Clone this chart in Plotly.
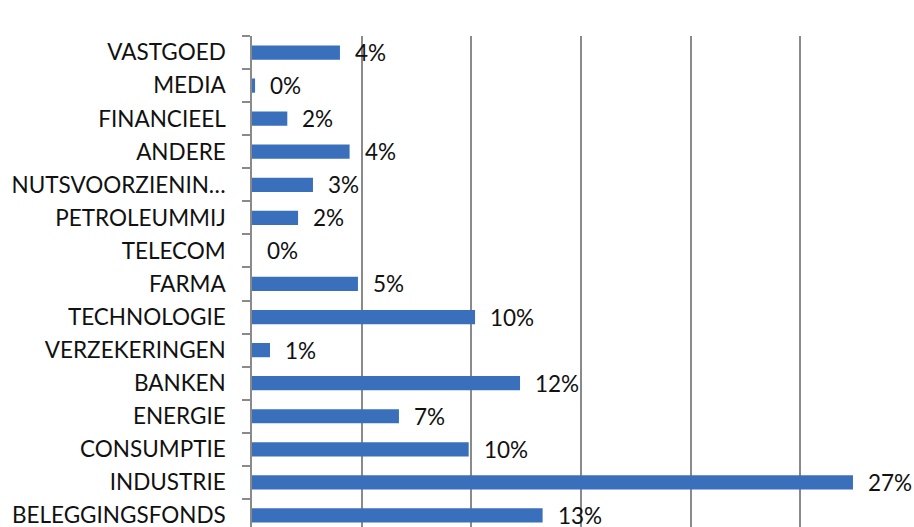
import plotly.graph_objects as go

categories = ["BELEGGINGSFONDS", "INDUSTRIE", "CONSUMPTIE", "ENERGIE", "BANKEN",
              "VERZEKERINGEN", "TECHNOLOGIE", "FARMA", "TELECOM", "PETROLEUMMIJ",
              "NUTSVOORZIENIN…", "ANDERE", "FINANCIEEL", "MEDIA", "VASTGOED"]
values = [13.25, 27.4, 9.88, 6.70, 12.22, 0.82, 10.17, 4.83, 0.0, 2.10,
          2.78, 4.45, 1.61, 0.14, 4.01]
labels = [f"{round(v)}%" for v in values]
x_ticks = [0, 5, 10, 15, 20, 25, 30]

FONT = "Lato, 'Open Sans', sans-serif"
GREY = "#8a8a8a"

fig = go.Figure()
fig.add_trace(go.Bar(
    y=categories, x=values, orientation="h",
    marker=dict(color="#3a6fbc", line=dict(width=0)),
    hoverinfo="x+y",
))

for c, v, t in zip(categories, values, labels):
    fig.add_annotation(x=v, y=c, text=t, showarrow=False, xanchor="left",
                       yanchor="middle", xshift=13,
                       font=dict(family=FONT, size=22.5, color="#111111"))

fig.update_layout(
    width=914, height=527,
    margin=dict(l=252, r=4, t=36, b=0, autoexpand=False),
    paper_bgcolor="white", plot_bgcolor="white",
    bargap=0.57,
    showlegend=False,
    font=dict(family=FONT, size=22.5, color="#111111"),
)
fig.update_xaxes(range=[0, 30], tickvals=x_ticks, showticklabels=False,
                 showgrid=True, gridcolor=GREY, gridwidth=1.5,
                 zeroline=False, showline=False, ticks="", automargin=False)
fig.update_yaxes(type="category", categoryorder="array", categoryarray=categories,
                 range=[-0.35, 14.5], tickson="boundaries", ticks="outside",
                 ticklen=8, tickcolor=GREY, tickwidth=1.5,
                 showline=True, linecolor=GREY, linewidth=1.5,
                 showgrid=False, ticklabelstandoff=20, automargin=False,
                 tickfont=dict(family=FONT, size=22.5, color="#111111"))

fig.write_html("out.html", config={"displayModeBar": False},
               post_script="document.body.style.margin='0';")
